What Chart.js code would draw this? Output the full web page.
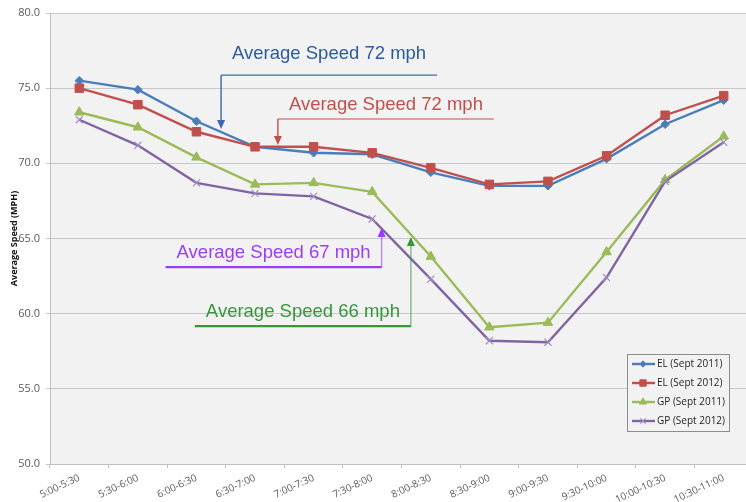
<!DOCTYPE html>
<html>
<head>
<meta charset="utf-8">
<script src="https://cdn.jsdelivr.net/npm/chart.js@4/dist/chart.umd.min.js"></script>
<style>
  html, body { margin: 0; padding: 0; background: #fff; overflow: hidden; }
  #wrap { width: 760px; height: 502px; }
</style>
</head>
<body>
<div id="wrap"><canvas id="speedChart" width="760" height="502"></canvas></div>
<script>
// time slots
const timeSlots = ["5:00-5:30", "5:30-6:00", "6:00-6:30", "6:30-7:00", "7:00-7:30", "7:30-8:00",
                   "8:00-8:30", "8:30-9:00", "9:00-9:30", "9:30-10:00", "10:00-10:30", "10:30-11:00"];

// average speeds (mph)
const elSept2011 = [75.5, 74.9, 72.8, 71.1, 70.7, 70.6, 69.4, 68.5, 68.5, 70.3, 72.6, 74.2];
const elSept2012 = [75.0, 73.9, 72.1, 71.1, 71.1, 70.7, 69.7, 68.6, 68.8, 70.5, 73.2, 74.5];
const gpSept2011 = [73.4, 72.4, 70.4, 68.6, 68.7, 68.1, 63.8, 59.1, 59.4, 64.1, 68.9, 71.8];
const gpSept2012 = [72.9, 71.2, 68.7, 68.0, 67.8, 66.3, 62.3, 58.2, 58.1, 62.4, 68.8, 71.4];

const yMin = 50, yMax = 80, yStep = 5;

// callouts: arrow position in category units / mph values
const callouts = [
  { text: "Average Speed 72 mph", color: "#2c5a9e", line: "#3b69b1", x: 2.42, lineY: 75.87, tipY: 72.28, side: "right", gap: 16, lw: 1.3 },
  { text: "Average Speed 72 mph", color: "#c0504d", line: "#c0504d", x: 3.39, lineY: 72.95, tipY: 71.22, side: "right", gap: 9, lw: 1.1 },
  { text: "Average Speed 67 mph", color: "#9b3cf6", line: "#9b3cf6", x: 5.16, lineY: 63.1, tipY: 65.7, side: "left", gap: 9, lw: 2.2 },
  { text: "Average Speed 66 mph", color: "#34973a", line: "#34973a", x: 5.66, lineY: 59.17, tipY: 65.1, side: "left", gap: 9, lw: 2.2 }
];

const plotBg = {
  id: "plotBg",
  beforeDraw(chart) {
    const { ctx, chartArea: a } = chart;
    ctx.save();
    ctx.fillStyle = "#f2f2f2";
    ctx.fillRect(a.left, a.top, a.right - a.left, a.bottom - a.top);
    ctx.restore();
  }
};

const calloutPlugin = {
  id: "callouts",
  afterDatasetsDraw(chart) {
    const { ctx, scales: { x, y } } = chart;
    ctx.save();
    ctx.font = "18.5px 'Liberation Sans', Arial, sans-serif";
    ctx.textBaseline = "alphabetic";
    callouts.forEach(c => {
      const ax = x.getPixelForValue(c.x);
      const ly = y.getPixelForValue(c.lineY);
      const ty = y.getPixelForValue(c.tipY);
      const len = 216;
      const x0 = c.side === "right" ? ax : ax - len;
      const x1 = c.side === "right" ? ax + len : ax;
      ctx.strokeStyle = c.line;
      ctx.lineWidth = c.lw;
      ctx.beginPath();
      ctx.moveTo(x0, ly); ctx.lineTo(x1, ly);
      ctx.stroke();
      // vertical shaft
      const dir = ty > ly ? 1 : -1;
      ctx.globalAlpha = c.side === "left" ? 0.6 : 1;
      ctx.lineWidth = 1.4;
      ctx.beginPath();
      ctx.moveTo(ax, ly); ctx.lineTo(ax, ty - dir * 7);
      ctx.stroke();
      ctx.globalAlpha = 1;
      ctx.fillStyle = c.line;
      ctx.beginPath();
      ctx.moveTo(ax, ty);
      ctx.lineTo(ax - 4, ty - dir * 9);
      ctx.lineTo(ax + 4, ty - dir * 9);
      ctx.closePath();
      ctx.fill();
      ctx.fillStyle = c.color;
      ctx.textAlign = "left";
      ctx.fillText(c.text, x0 + 11, ly - c.gap);
    });
    ctx.restore();
  }
};

const legendBox = {
  id: "legendBox",
  afterDraw(chart) {
    const { ctx, chartArea: a } = chart;
    const left = a.left + 577, top = a.bottom - 110, w = 102, h = 77;
    ctx.save();
    ctx.fillStyle = "#f2f2f2";
    ctx.fillRect(left, top, w, h);
    ctx.strokeStyle = "#8c8c8c";
    ctx.lineWidth = 1;
    ctx.strokeRect(left + 0.5, top + 0.5, w, h);
    ctx.font = "10px 'Open Sans', sans-serif";
    ctx.textBaseline = "middle";
    ctx.textAlign = "left";
    chart.data.datasets.forEach((ds, i) => {
      const cy = top + 10 + i * 19;
      ctx.strokeStyle = ds.borderColor;
      ctx.lineWidth = 2.4;
      ctx.beginPath();
      ctx.moveTo(left + 5, cy); ctx.lineTo(left + 28, cy);
      ctx.stroke();
      ctx.fillStyle = ds.pointBackgroundColor;
      ctx.strokeStyle = ds.pointBorderColor;
      ctx.lineWidth = ds.pointBorderWidth;
      Chart.helpers.drawPoint(ctx, {
        pointStyle: ds.pointStyle, radius: ds.pointRadius * 0.75, rotation: 0,
        borderWidth: ds.pointBorderWidth
      }, left + 16, cy);
      ctx.fillStyle = "#1e1e1e";
      ctx.fillText(ds.label, left + 30, cy);
    });
    ctx.restore();
  }
};

function series(label, data, color, style, radius, order, markColor) {
  return {
    label, data, order,
    borderColor: color, backgroundColor: color,
    borderWidth: 2.4, tension: 0,
    pointStyle: style, pointRadius: radius, pointHoverRadius: radius,
    pointBackgroundColor: markColor || color, pointBorderColor: markColor || color,
    pointBorderWidth: style === "crossRot" ? 1.2 : 1
  };
}

new Chart(document.getElementById("speedChart"), {
  type: "line",
  data: {
    labels: timeSlots,
    datasets: [
      series("EL (Sept 2011)", elSept2011, "#4a7ebb", "rectRot", 4.2, 3),
      series("EL (Sept 2012)", elSept2012, "#c0504d", "rect", 6, 2),
      series("GP (Sept 2011)", gpSept2011, "#9bbb59", "triangle", 5.5, 1),
      series("GP (Sept 2012)", gpSept2012, "#8064a2", "crossRot", 5, 0, "#a08cc0")
    ]
  },
  options: {
    responsive: false,
    animation: false,
    layout: { padding: { left: 0, top: 13, right: 5, bottom: 0 } },
    plugins: { legend: { display: false }, tooltip: { enabled: false } },
    scales: {
      x: {
        offset: true,
        grid: { display: true, drawOnChartArea: false, drawTicks: true, tickLength: 4, offset: true, color: "#bfbfbf" },
        border: { color: "#bfbfbf" },
        ticks: { color: "#595959", font: { family: "Open Sans", size: 10 }, minRotation: 25, maxRotation: 25, autoSkip: false, padding: 4 },
        afterFit(s) { s.height = 38; }
      },
      y: {
        min: yMin, max: yMax,
        grid: { color: "#c8c8c8", tickLength: 4 },
        border: { color: "#bfbfbf" },
        ticks: { stepSize: yStep, color: "#595959", font: { family: "Open Sans", size: 11 }, padding: 6,
                 callback: v => Number(v).toFixed(1) },
        title: { display: true, text: "Average Speed (MPH)", color: "#111", font: { family: "Open Sans", size: 9, weight: "bold" }, padding: { top: 9, bottom: 0 } },
        afterFit(s) { s.width = 50; }
      }
    }
  },
  plugins: [plotBg, calloutPlugin, legendBox]
});
</script>
</body>
</html>
